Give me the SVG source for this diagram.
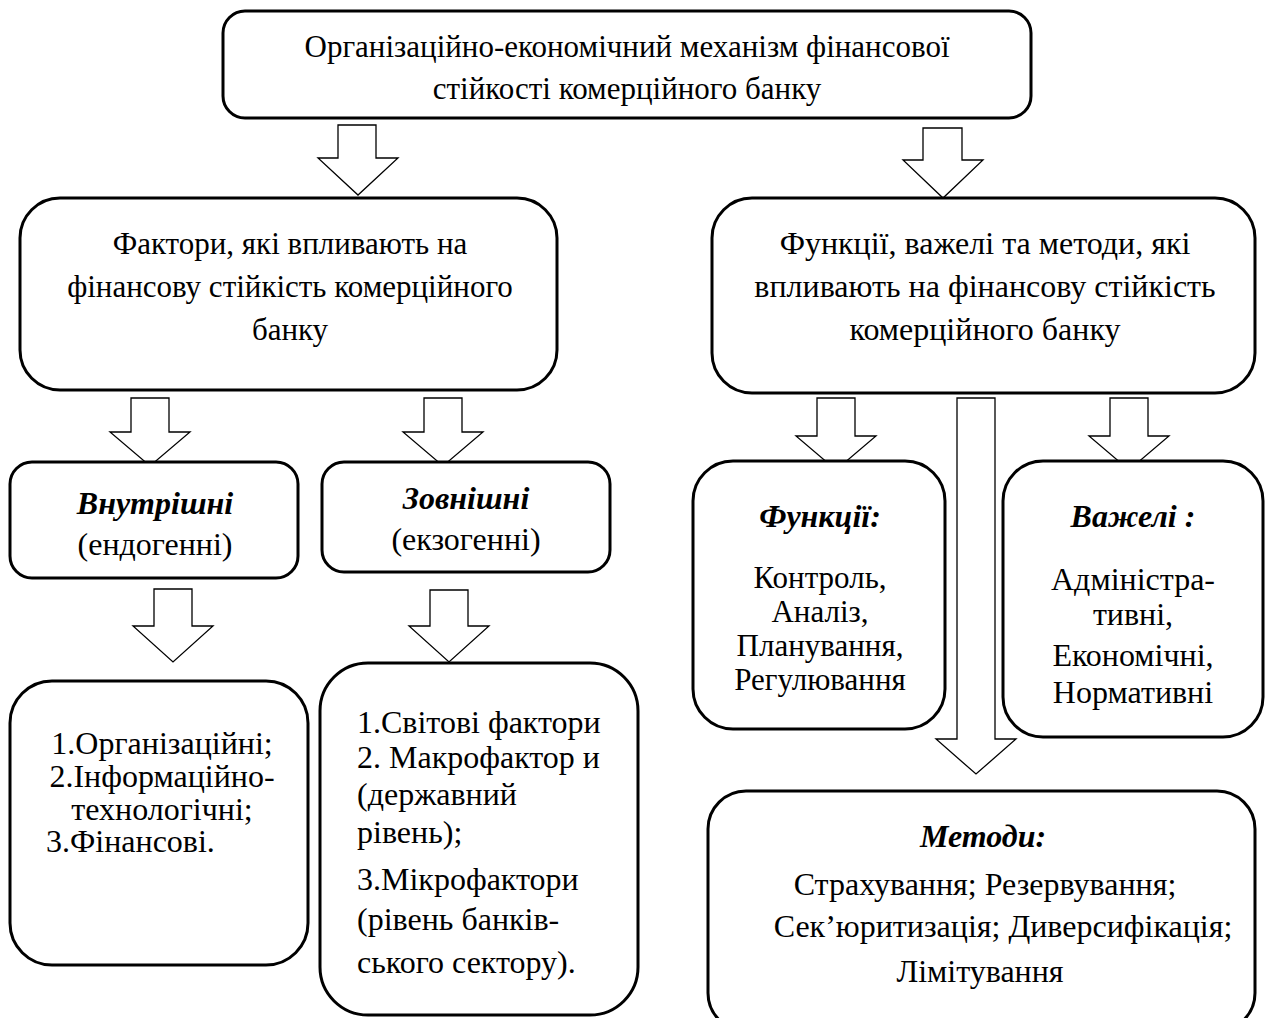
<svg xmlns="http://www.w3.org/2000/svg" width="1271" height="1018" viewBox="0 0 1271 1018">
<style>
.box{fill:#fff;stroke:#000;stroke-width:3}
.arr{fill:#fff;stroke:#000;stroke-width:1.3;stroke-linejoin:miter}
text{font-family:"Liberation Serif","Times New Roman",serif;font-size:32px;fill:#000}
.t{font-size:31px}
.f{font-size:31px}
.c{text-anchor:middle}
.bi{font-weight:bold;font-style:italic}
</style>
<rect width="1271" height="1018" fill="#fff"/>
<g id="connectors">
<path class="arr" d="M338,125 H376 V158 H398 L358,195 L318,158 H338 Z"/>
<path class="arr" d="M923,128 H962 V160 H983 L943,198 L903,160 H923 Z"/>
<path class="arr" d="M131,398 H169 V432 H190 L150,466 L110,432 H131 Z"/>
<path class="arr" d="M424,398 H462 V432 H483 L443,466 L403,432 H424 Z"/>
<path class="arr" d="M154,589 H192 V626 H213 L173,662 L133,626 H154 Z"/>
<path class="arr" d="M430,590 H468 V626 H489 L449,662 L409,626 H430 Z"/>
<path class="arr" d="M817,398 H855 V436 H876 L836,470 L796,436 H817 Z"/>
<path class="arr" d="M1110,398 H1148 V436 H1169 L1129,470 L1089,436 H1110 Z"/>
<path class="arr" d="M957,398 H995 V739 H1016 L976,774 L936,739 H957 Z"/>
</g>
<g id="top">
<rect class="box" x="223" y="11" width="808" height="107" rx="22"/>
<text class="c t" x="627" y="57">Організаційно-економічний механізм фінансової</text>
<text class="c t" x="627" y="99">стійкості комерційного банку</text>
</g>
<g id="factors">
<rect class="box" x="20" y="198" width="537" height="192" rx="40"/>
<text class="c f" x="290" y="254">Фактори, які впливають на</text>
<text class="c f" x="290" y="297">фінансову стійкість комерційного</text>
<text class="c f" x="290" y="340">банку</text>
</g>
<g id="functions-levers-methods">
<rect class="box" x="712" y="198" width="543" height="195" rx="40"/>
<text class="c" x="985" y="254">Функції, важелі та методи, які</text>
<text class="c" x="985" y="297">впливають на фінансову стійкість</text>
<text class="c" x="985" y="340">комерційного банку</text>
</g>
<g id="internal">
<rect class="box" x="10" y="462" width="288" height="116" rx="22"/>
<text class="c bi" x="155" y="514">Внутрішні</text>
<text class="c" x="155" y="555">(ендогенні)</text>
</g>
<g id="external">
<rect class="box" x="322" y="462" width="288" height="110" rx="22"/>
<text class="c bi" x="466" y="509">Зовнішні</text>
<text class="c" x="466" y="550">(екзогенні)</text>
</g>
<g id="internal-list">
<rect class="box" x="10" y="681" width="298" height="284" rx="42"/>
<text class="c" x="162" y="754">1.Організаційні;</text>
<text class="c" x="162" y="787">2.Інформаційно-</text>
<text class="c" x="162" y="820">технологічні;</text>
<text x="46" y="852">3.Фінансові.</text>
</g>
<g id="external-list">
<rect class="box" x="320" y="663" width="318" height="352" rx="48"/>
<text x="357" y="733">1.Світові фактори</text>
<text x="357" y="768">2. Макрофактор и</text>
<text x="357" y="805">(державний</text>
<text x="357" y="843">рівень);</text>
<text x="357" y="890"> 3.Мікрофактори</text>
<text x="357" y="930">(рівень банків-</text>
<text x="357" y="973">ського сектору).</text>
</g>
<g id="functions">
<rect class="box" x="693" y="461" width="252" height="268" rx="40"/>
<text class="c bi" x="820" y="527">Функції:</text>
<text class="c f" x="820" y="588">Контроль,</text>
<text class="c f" x="820" y="622">Аналіз,</text>
<text class="c f" x="820" y="656">Планування,</text>
<text class="c f" x="820" y="690">Регулювання</text>
</g>
<g id="levers">
<rect class="box" x="1003" y="461" width="260" height="276" rx="40"/>
<text class="c bi" x="1133" y="527">Важелі :</text>
<text class="c" x="1133" y="590">Адміністра-</text>
<text class="c" x="1133" y="625">тивні,</text>
<text class="c" x="1133" y="666">Економічні,</text>
<text class="c" x="1133" y="703">Нормативні</text>
</g>
<g id="methods">
<rect class="box" x="708" y="791" width="547" height="240" rx="38"/>
<text class="c bi" x="983" y="847">Методи:</text>
<text class="c" x="985" y="895">Страхування; Резервування;</text>
<text class="c" x="1003" y="937">Сек’юритизація; Диверсифікація;</text>
<text class="c" x="980" y="982">Лімітування</text>
</g>
</svg>
